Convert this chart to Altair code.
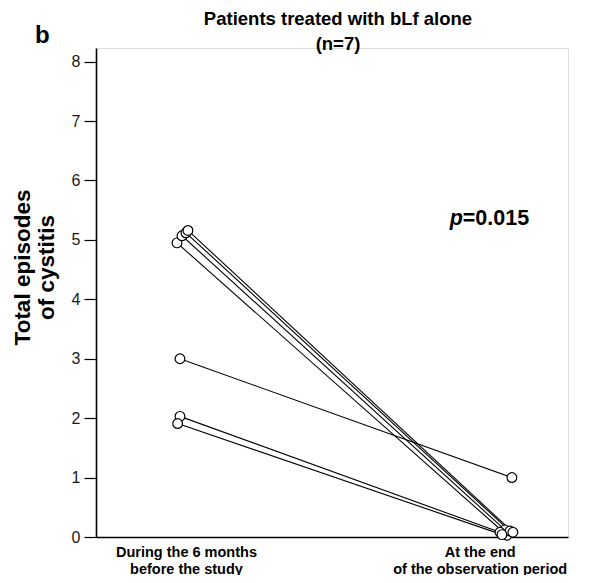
import altair as alt
import pandas as pd

# ---- data ----
patients = ["P1", "P2", "P3", "P4", "P5", "P6", "P7"]
before_values = [4.95, 5.07, 5.12, 5.16, 3.00, 2.03, 1.91]
after_values = [0.03, 0.12, 0.10, 0.08, 1.00, 0.08, 0.04]
# slight horizontal jitter of the plotted circles (0 = before, 1 = after)
before_pos = [-0.009, 0.006, 0.018, 0.024, 0.0, 0.0, -0.007]
after_pos = [0.985, 0.979, 0.994, 1.003, 1.0, 0.964, 0.970]

x_label_pos = [0.018, 0.903]
x_labels_before = ["During the 6 months", "before  the study"]
x_labels_after = ["At the end", "of the observation period"]
p_text = ["p", "=0.015"]

rows = []
for pid, bv, av, bp, ap in zip(patients, before_values, after_values, before_pos, after_pos):
    rows.append({"patient": pid, "x": bp, "y": bv, "order": 0})
    rows.append({"patient": pid, "x": ap, "y": av, "order": 1})
df = pd.DataFrame(rows)

FONT = "Liberation Sans"

x_scale = alt.Scale(domain=[-0.253, 1.169], nice=False, zero=False)
y_scale = alt.Scale(domain=[0, 8.23], nice=False, zero=True)

label_expr = (
    "datum.value < 0.5 ? ['" + x_labels_before[0] + "', '" + x_labels_before[1] + "']"
    " : ['" + x_labels_after[0] + "', '" + x_labels_after[1] + "']"
)

x_enc = alt.X(
    "x:Q",
    scale=x_scale,
    axis=alt.Axis(
        values=x_label_pos,
        labelExpr=label_expr,
        ticks=False,
        tickSize=0,
        grid=False,
        title=None,
        labelFont=FONT,
        labelFontWeight="bold",
        labelFontSize=14.5,
        labelLineHeight=17,
        labelPadding=8,
        labelColor="black",
        domainColor="black",
        domainWidth=1.6,
        labelFlush=False,
        labelOverlap=False,
    ),
)
y_enc = alt.Y(
    "y:Q",
    scale=y_scale,
    axis=alt.Axis(
        values=[i * 0.5 for i in range(17)],
        labelExpr="datum.value % 1 === 0 ? format(datum.value, 'd') : ''",
        tickSize={"condition": {"test": "datum.value % 1 === 0", "value": 12}, "value": 5},
        tickColor="black",
        tickWidth=1.2,
        domainColor="black",
        domainWidth=1.6,
        grid=False,
        labelFont=FONT,
        labelFontSize=16,
        labelColor="#1a1a1a",
        labelPadding=4,
        title=["Total episodes", "of cystitis"],
        titleFont=FONT,
        titleFontSize=22.5,
        titleFontWeight="bold",
        titleColor="black",
        titleLineHeight=24,
        titleAngle=-90,
        titleAlign="center",
        titleBaseline="top",
        titleX=-85,
        titleY=219,
        labelOverlap=False,
    ),
)

lines = alt.Chart(df).mark_line(color="black", strokeWidth=1.1).encode(
    x=x_enc, y=y_enc, detail="patient:N", order="order:Q"
)
points = alt.Chart(df).mark_point(
    shape="circle", filled=False, fill="white", fillOpacity=1,
    stroke="black", strokeWidth=1.2, size=95, opacity=1
).encode(x="x:Q", y="y:Q")

p_df = pd.DataFrame({"t": [p_text[0]], "x": [0.852], "y": [5.25]})
p_mark = alt.Chart(p_df).mark_text(
    font=FONT, fontSize=21.5, fontWeight="bold", fontStyle="italic",
    align="right", baseline="alphabetic", color="black"
).encode(x="x:Q", y="y:Q", text="t:N")
v_df = pd.DataFrame({"t": [p_text[1]], "x": [0.852], "y": [5.25]})
v_mark = alt.Chart(v_df).mark_text(
    font=FONT, fontSize=21.5, fontWeight="bold",
    align="left", baseline="alphabetic", color="black"
).encode(x="x:Q", y="y:Q", text="t:N")

b_mark = alt.Chart(pd.DataFrame({"t": ["b"]})).mark_text(
    font=FONT, fontSize=24, fontWeight="bold", align="left",
    baseline="alphabetic", color="black"
).encode(x=alt.value(-61), y=alt.value(-5), text="t:N")

chart = alt.layer(lines, points, p_mark, v_mark, b_mark).properties(
    width=472,
    height=489,
    padding={"left": 88, "top": 40, "right": 16, "bottom": 38},
    autosize=alt.AutoSizeParams(type="none"),
    title=alt.TitleParams(
        text=["Patients treated with bLf alone", "(n=7)"],
        font=FONT,
        fontSize=18.5,
        fontWeight="bold",
        color="black",
        anchor="middle",
        lineHeight=25,
        dx=6,
        offset=-29,
    ),
).configure_view(stroke=None).configure(background="white")

chart.save("out.html", embed_options={"renderer": "svg", "actions": False})
